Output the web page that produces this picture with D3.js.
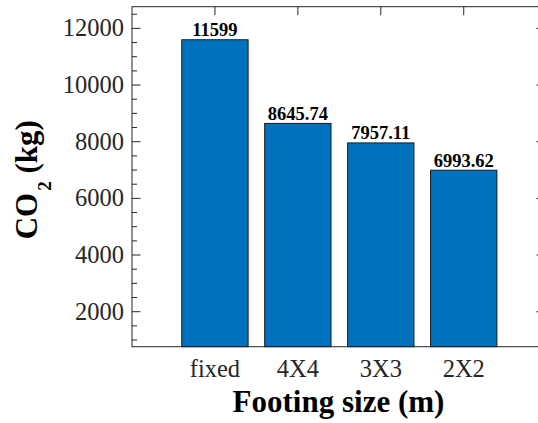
<!DOCTYPE html>
<html>
<head>
<meta charset="utf-8">
<script src="https://cdn.jsdelivr.net/npm/d3@7"></script>
<style>
html,body{margin:0;padding:0;background:#fff;}
svg{display:block;}
</style>
</head>
<body>
<script>
const categories = ["fixed", "4X4", "3X3", "2X2"];
const values = [11599, 8645.74, 7957.11, 6993.62];
const valueLabels = ["11599", "8645.74", "7957.11", "6993.62"];
const yMajorTicks = [2000, 4000, 6000, 8000, 10000, 12000];
const yMinorTicks = [1000, 1500, 2500, 3000, 3500, 4500, 5000, 5500, 6500, 7000, 7500, 8500, 9000, 9500, 10500, 11000, 11500, 12500];

const W = 538, H = 423;
const pL = 132, pR = 545, pT = 6.7, pB = 346.7;
const serif = "'Liberation Serif','Times New Roman',serif";
const axisColor = "#262626";

const svg = d3.select("body").append("svg").attr("width", W).attr("height", H);

const x = d3.scaleLinear().domain([0, 4.98]).range([pL, pR]);
const y = d3.scaleLinear().domain([765, 12765]).range([pB, pT]);
const barW = (x(1) - x(0)) * 0.8;

// top ticks at category centers
svg.append("g").selectAll("line").data(categories).join("line")
  .attr("x1", (d, i) => x(i + 1)).attr("x2", (d, i) => x(i + 1))
  .attr("y1", pT).attr("y2", pT + 8.5)
  .attr("stroke", axisColor).attr("stroke-width", 1);

// y ticks left and right
const yt = svg.append("g");
yt.selectAll("line.maj").data(yMajorTicks).join("line").attr("class", "maj")
  .attr("x1", pL).attr("x2", pL + 8.5)
  .attr("y1", d => y(d)).attr("y2", d => y(d))
  .attr("stroke", axisColor).attr("stroke-width", 1);
yt.selectAll("line.min").data(yMinorTicks).join("line").attr("class", "min")
  .attr("x1", pL).attr("x2", pL + 5)
  .attr("y1", d => y(d)).attr("y2", d => y(d))
  .attr("stroke", axisColor).attr("stroke-width", 1);
yt.selectAll("line.majr").data(yMajorTicks).join("line").attr("class", "majr")
  .attr("x1", pR).attr("x2", pR - 8.5)
  .attr("y1", d => y(d)).attr("y2", d => y(d))
  .attr("stroke", axisColor).attr("stroke-width", 1);
yt.selectAll("line.minr").data(yMinorTicks).join("line").attr("class", "minr")
  .attr("x1", pR).attr("x2", pR - 5)
  .attr("y1", d => y(d)).attr("y2", d => y(d))
  .attr("stroke", axisColor).attr("stroke-width", 1);

// bars
svg.append("g").selectAll("rect").data(values).join("rect")
  .attr("x", (d, i) => x(i + 1) - barW / 2)
  .attr("width", barW)
  .attr("y", d => y(d))
  .attr("height", d => pB - y(d))
  .attr("fill", "#0072BD")
  .attr("stroke", "#1a1a1a").attr("stroke-width", 1);

// box
svg.append("rect").attr("x", pL).attr("y", pT)
  .attr("width", pR - pL).attr("height", pB - pT)
  .attr("fill", "none").attr("stroke", axisColor).attr("stroke-width", 1);

// y tick labels
svg.append("g").selectAll("text").data(yMajorTicks).join("text")
  .attr("x", pL - 8).attr("y", d => y(d)).attr("dy", "0.33em")
  .attr("text-anchor", "end")
  .attr("font-family", serif).attr("font-size", 24.5).attr("fill", axisColor)
  .text(d => d);

// x tick labels
svg.append("g").selectAll("text").data(categories).join("text")
  .attr("x", (d, i) => x(i + 1)).attr("y", 377.3)
  .attr("text-anchor", "middle")
  .attr("font-family", serif).attr("font-size", 24.5).attr("fill", axisColor)
  .text(d => d);

// value labels
svg.append("g").selectAll("text").data(values).join("text")
  .attr("x", (d, i) => x(i + 1)).attr("y", d => y(d) - 3.5)
  .attr("text-anchor", "middle")
  .attr("font-family", serif).attr("font-size", 18.5).attr("font-weight", "bold").attr("fill", "#000")
  .text((d, i) => valueLabels[i]);

// x axis label
svg.append("text")
  .attr("x", (pL + pR) / 2).attr("y", 411.7)
  .attr("text-anchor", "middle")
  .attr("font-family", serif).attr("font-size", 31).attr("font-weight", "bold").attr("fill", "#000")
  .text("Footing size (m)");

// y axis label
const yl = svg.append("text")
  .attr("transform", `translate(36.5,${(pT + pB) / 2 + 3}) rotate(-90)`)
  .attr("text-anchor", "middle")
  .attr("font-family", serif).attr("font-size", 31).attr("font-weight", "bold").attr("fill", "#000");
yl.append("tspan").text("CO");
yl.append("tspan").attr("font-size", 19).attr("dy", 14).attr("dx", 2).text("2");
yl.append("tspan").attr("dy", -14).text(" (kg)");
</script>
</body>
</html>
